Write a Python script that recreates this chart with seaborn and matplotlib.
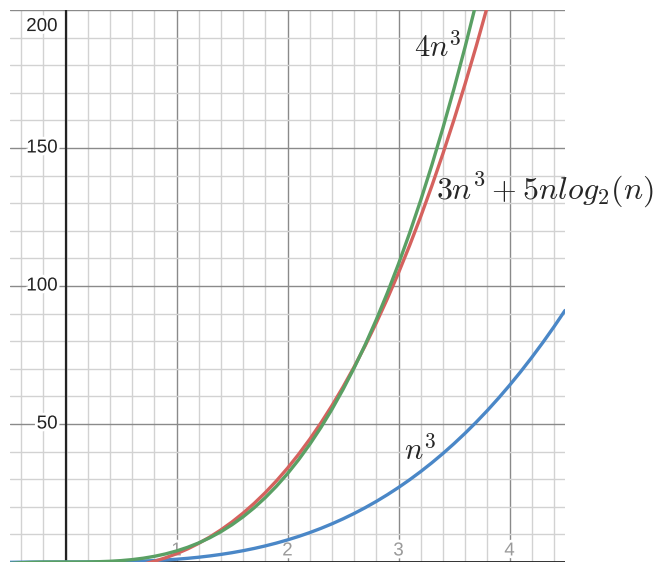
import numpy as np
import pandas as pd
import matplotlib
matplotlib.use('Agg')
import matplotlib.pyplot as plt
import matplotlib.patheffects as pe
from matplotlib.ticker import MultipleLocator
import seaborn as sns

# valores (paso 0.1)
n_blue = [round(-0.5 + 0.1 * i, 1) for i in range(51)]
y_blue = [-0.125, -0.064, -0.027, -0.008, -0.001, 0.0, 0.001, 0.008, 0.027, 0.064,
          0.125, 0.216, 0.343, 0.512, 0.729, 1.0, 1.331, 1.728, 2.197, 2.744,
          3.375, 4.096, 4.913, 5.832, 6.859, 8.0, 9.261, 10.648, 12.167, 13.824,
          15.625, 17.576, 19.683, 21.952, 24.389, 27.0, 29.791, 32.768, 35.937, 39.304,
          42.875, 46.656, 50.653, 54.872, 59.319, 64.0, 68.921, 74.088, 79.507, 85.184,
          91.125]

n_green = [round(-0.5 + 0.1 * i, 1) for i in range(43)]
y_green = [-0.5, -0.256, -0.108, -0.032, -0.004, 0.0, 0.004, 0.032, 0.108, 0.256,
           0.5, 0.864, 1.372, 2.048, 2.916, 4.0, 5.324, 6.912, 8.788, 10.976,
           13.5, 16.384, 19.652, 23.328, 27.436, 32.0, 37.044, 42.592, 48.668, 55.296,
           62.5, 70.304, 78.732, 87.808, 97.556, 108.0, 119.164, 131.072, 143.748, 157.216,
           171.5, 186.624, 202.612]

n_red = [round(0.1 * i, 1) for i in range(1, 39)]
y_red = [-1.658, -2.298, -2.525, -2.452, -2.125, -1.563, -0.772, 0.248, 1.503, 3.0,
         4.749, 6.762, 9.051, 11.63, 14.512, 17.713, 21.246, 25.128, 29.374, 34.0,
         39.022, 44.457, 50.319, 56.629, 63.399, 70.649, 78.394, 86.652, 95.44, 104.774,
         114.674, 125.153, 136.232, 147.926, 160.254, 173.233, 186.878, 201.209]

x_ticks = [1, 2, 3, 4]
y_ticks = [50, 100, 150, 200]

sns.set_style('white')
plt.rcParams['mathtext.fontset'] = 'cm'
plt.rcParams['font.family'] = ['Liberation Sans', 'DejaVu Sans']

fig = plt.figure(figsize=(6.56, 5.63), dpi=100)
ax = fig.add_axes([10 / 656, 1 / 563, 555 / 656, 552 / 563])

# cuadricula
ax.set_xlim(-0.5, 4.5)
ax.set_ylim(0, 200)
ax.xaxis.set_major_locator(MultipleLocator(1))
ax.xaxis.set_minor_locator(MultipleLocator(0.2))
ax.yaxis.set_major_locator(MultipleLocator(50))
ax.yaxis.set_minor_locator(MultipleLocator(10))
ax.grid(which='major', color='#8a8a8a', linewidth=1.0)
ax.grid(which='minor', color='#d2d2d2', linewidth=1.0)
ax.set_axisbelow(True)
ax.tick_params(which='both', length=0, labelbottom=False, labelleft=False)
for s in ax.spines.values():
    s.set_visible(False)
ax.axvline(0, color='#222222', linewidth=1.6, zorder=1.5)
ax.axhline(0, color='#222222', linewidth=2.0, zorder=1.5)

blanco = [pe.withStroke(linewidth=4, foreground='white')]
for t in x_ticks:
    ax.text(t, 4, str(t), ha='center', va='center', fontsize=13.5,
            color='#9a9a9a', path_effects=blanco, zorder=2)
for t in y_ticks:
    yy = t if t < 200 else 194
    ax.text(-0.07, yy, str(t), ha='right', va='center', fontsize=13.5,
            color='#222222', path_effects=blanco, zorder=2)

df_b = pd.DataFrame({'n': n_blue, 'y': y_blue})
df_g = pd.DataFrame({'n': n_green, 'y': y_green})
df_r = pd.DataFrame({'n': n_red, 'y': y_red})
sns.lineplot(data=df_b, x='n', y='y', color='#4a87c7', linewidth=2.4, ax=ax, zorder=3)
sns.lineplot(data=df_r, x='n', y='y', color='#d5625e', linewidth=2.4, ax=ax, zorder=3)
sns.lineplot(data=df_g, x='n', y='y', color='#5aa064', linewidth=2.4, ax=ax, zorder=3)
ax.set_xlabel('')
ax.set_ylabel('')

ax.text(3.144, 183, r'$4n^3$', fontsize=22, ha='left', va='baseline', zorder=4)
ax.text(3.342, 131.2, r'$3n^3+5nlog_2(n)$', fontsize=23, ha='left', va='baseline', zorder=4)
ax.text(3.054, 37, r'$n^3$', fontsize=22, ha='left', va='baseline', zorder=4)

plt.savefig('out.png', dpi=100)
